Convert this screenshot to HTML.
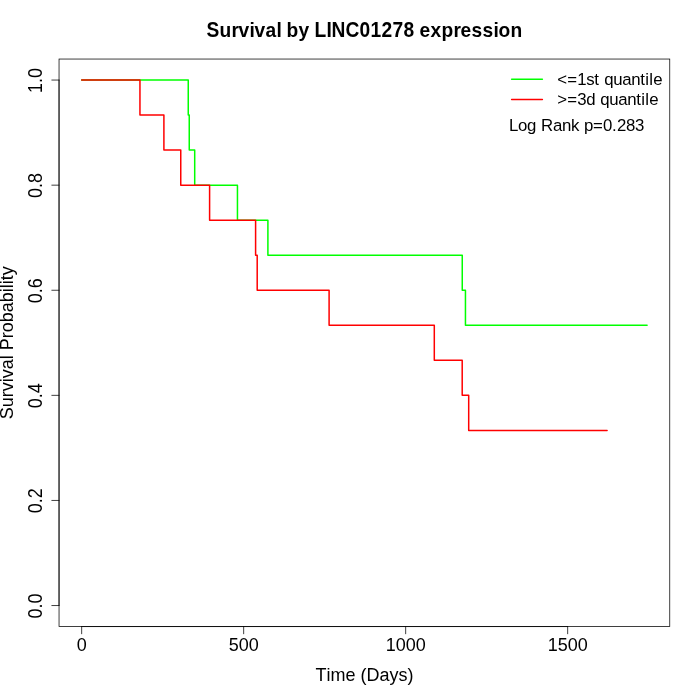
<!DOCTYPE html><html><head><meta charset="utf-8"><title>Survival by LINC01278 expression</title><style>html,body{margin:0;padding:0;background:#fff;}svg{display:block;will-change:transform;}text{white-space:pre;font-family:"Liberation Sans",Arial,Helvetica,sans-serif;fill:#000;}</style></head><body>
<svg width="700" height="700" viewBox="0 0 700 700">
<path d="M81.66 80.06 H188.25 V115.09 H189.25 V150.12 H194.70 V185.16 H237.45 V220.19 H267.90 V255.22 H462.25 V290.25 H465.45 V325.28 H647.10" fill="none" stroke="#0f0" stroke-opacity="1.000" stroke-width="1.5" stroke-linejoin="round" stroke-linecap="round"/>
<path d="M81.66 80.06 H139.95 V115.09 H163.90 V150.12 H180.75 V185.16 H209.60 V220.19 H255.60 V255.22 H257.20 V290.25 H329.10 V325.28 H434.30 V360.32 H462.20 V395.35 H468.70 V430.38 H607.10" fill="none" stroke="#f00" stroke-opacity="1.000" stroke-width="1.5" stroke-linejoin="round" stroke-linecap="round"/>
<rect x="59.04" y="59.04" width="610.72" height="567.52" fill="none" stroke="#000" stroke-width="0.75"/>
<path d="M81.66 626.56 H567.66" stroke="#000" stroke-width="0.75" stroke-linecap="round" fill="none"/>
<path d="M81.66 626.56 V633.76" stroke="#000" stroke-width="0.75" stroke-linecap="round" fill="none"/>
<path d="M243.66 626.56 V633.76" stroke="#000" stroke-width="0.75" stroke-linecap="round" fill="none"/>
<path d="M405.66 626.56 V633.76" stroke="#000" stroke-width="0.75" stroke-linecap="round" fill="none"/>
<path d="M567.66 626.56 V633.76" stroke="#000" stroke-width="0.75" stroke-linecap="round" fill="none"/>
<text transform="translate(81.66 651.35) scale(1.000 1.070)" x="-5" y="0" font-size="18.00">0</text>
<text transform="translate(243.66 651.35) scale(1.000 1.070)" x="-15 -5 5" y="0" font-size="18.00">500</text>
<text transform="translate(405.66 651.35) scale(1.000 1.070)" x="-20 -10 0 10" y="0" font-size="18.00">1000</text>
<text transform="translate(567.66 651.35) scale(1.000 1.070)" x="-20 -10 0 10" y="0" font-size="18.00">1500</text>
<path d="M59.04 605.54 V80.06" stroke="#000" stroke-width="0.75" stroke-linecap="round" fill="none"/>
<path d="M59.04 605.54 H51.84" stroke="#000" stroke-width="0.75" stroke-linecap="round" fill="none"/>
<path d="M59.04 500.44 H51.84" stroke="#000" stroke-width="0.75" stroke-linecap="round" fill="none"/>
<path d="M59.04 395.35 H51.84" stroke="#000" stroke-width="0.75" stroke-linecap="round" fill="none"/>
<path d="M59.04 290.25 H51.84" stroke="#000" stroke-width="0.75" stroke-linecap="round" fill="none"/>
<path d="M59.04 185.16 H51.84" stroke="#000" stroke-width="0.75" stroke-linecap="round" fill="none"/>
<path d="M59.04 80.06 H51.84" stroke="#000" stroke-width="0.75" stroke-linecap="round" fill="none"/>
<text transform="translate(41.80 605.94) rotate(-90) scale(1.000 1.110)" x="-12.5 -2.5 2.5" y="0" font-size="18.00">0.0</text>
<text transform="translate(41.80 500.84) rotate(-90) scale(1.000 1.110)" x="-12.5 -2.5 2.5" y="0" font-size="18.00">0.2</text>
<text transform="translate(41.80 395.75) rotate(-90) scale(1.000 1.110)" x="-12.5 -2.5 2.5" y="0" font-size="18.00">0.4</text>
<text transform="translate(41.80 290.65) rotate(-90) scale(1.000 1.110)" x="-12.5 -2.5 2.5" y="0" font-size="18.00">0.6</text>
<text transform="translate(41.80 185.56) rotate(-90) scale(1.000 1.110)" x="-12.5 -2.5 2.5" y="0" font-size="18.00">0.8</text>
<text transform="translate(41.80 80.46) rotate(-90) scale(1.000 1.110)" x="-12.5 -2.5 2.5" y="0" font-size="18.00">1.0</text>
<text transform="translate(206.40 37.00) scale(1.000 1.150)" x="0" y="0" font-size="19.20" font-weight="bold">S</text>
<text transform="translate(219.40 37.00) scale(1.000 1.070)" x="0 12 19 30 35 46 57 62 67 79" y="0" font-size="19.20" font-weight="bold">urvival by</text>
<text transform="translate(314.40 37.00) scale(1.000 1.150)" x="0 12 17 31 45 56 67 78 89" y="0" font-size="19.20" font-weight="bold">LINC01278</text>
<text transform="translate(419.40 37.00) scale(1.000 1.070)" x="0 11 22 34 41 52 63 74 79 91" y="0" font-size="19.20" font-weight="bold">expression</text>
<text transform="translate(364.40 680.80) scale(1.000 1.070)" x="-49 -38 -34 -19 -9 -4 2 15 25 34 43" y="0" font-size="18.00">Time (Days)</text>
<text transform="translate(13.30 342.70) rotate(-90) scale(1.000 1.070)" x="-76.5 -64.5 -54.5 -48.5 -39.5 -35.5 -26.5 -16.5 -12.5 -7.5 4.5 10.5 20.5 30.5 40.5 50.5 54.5 58.5 62.5 67.5" y="0" font-size="18.00">Survival Probability</text>
<path d="M511.6 79.23 H542.4" stroke="#0f0" stroke-opacity="1.000" stroke-width="1.5" stroke-linecap="round"/>
<path d="M511.6 99.4 H542.4" stroke="#f00" stroke-opacity="1.000" stroke-width="1.5" stroke-linecap="round"/>
<text transform="translate(557.30 84.70)" x="0 10 20 29 37 42 47 56 65 74 83 88 92 96" y="0" font-size="16.80">&lt;=1st quantile</text>
<text transform="translate(557.30 104.70)" x="0 10 20 29 38 43 52 61 70 79 84 88 92" y="0" font-size="16.80">&gt;=3d quantile</text>
<text transform="translate(509.00 131.10)" x="0 9 18 27 32 44 53 62 70 75 84 94 103 108 117 126" y="0" font-size="16.80">Log Rank p=0.283</text>
</svg></body></html>
